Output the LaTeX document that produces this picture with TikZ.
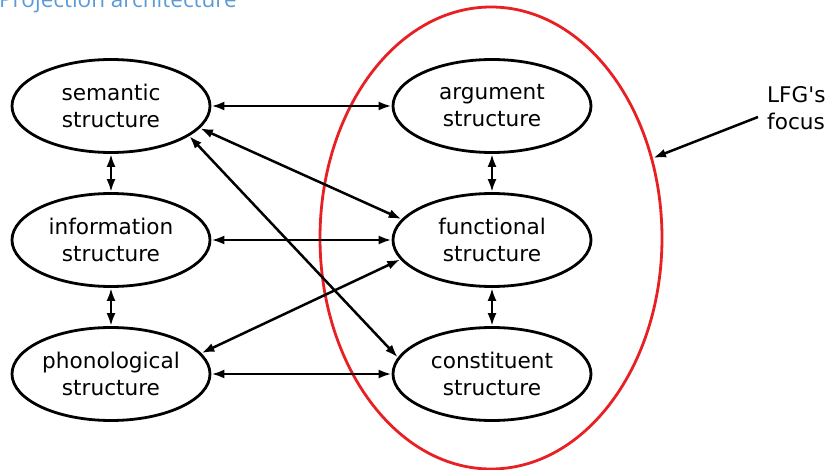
\documentclass[tikz,border=0pt]{standalone}
\usepackage{fontspec}
\setmainfont{DejaVu Sans}
\newfontfamily\plainfont{DejaVu Sans}
\newfontfamily\titlefont{Open Sans}
\usetikzlibrary{arrows.meta,shapes.geometric}
\definecolor{titleblue}{RGB}{91,155,213}
\definecolor{focusred}{RGB}{232,32,36}
\begin{document}
\begin{tikzpicture}[x=1pt,y=-1pt,
  struct/.style={draw,ellipse,line width=2.8pt,minimum width=198pt,minimum height=93pt,inner sep=0pt,align=center,font=\fontsize{21.6}{27}\selectfont},
  link/.style={line width=2.5pt,{Latex[length=13pt,width=9pt]}-{Latex[length=13pt,width=9pt]}},
  pointer/.style={line width=2.5pt,-{Latex[length=13pt,width=9pt]}}]
\useasboundingbox (0,0) rectangle (828,470);
\clip (0,0) rectangle (828,470);
\node[anchor=base west,inner sep=0pt,text=titleblue,font=\titlefont\fontsize{22.5}{27}\selectfont] (title) at (-1,8) {Projection architecture};
\node[struct] (sem) at (111,106) {semantic\\structure};
\node[struct] (inf) at (111,240) {information\\structure};
\node[struct] (pho) at (111,374) {phonological\\structure};
\node[struct] (arg) at (492,106) {argument\\structure};
\node[struct] (fun) at (492,240) {functional\\structure};
\node[struct] (con) at (492,374) {constituent\\structure};
\draw[focusred,line width=2.8pt] (491,238) ellipse [x radius=171, y radius=231];
\node[anchor=west,inner sep=0pt,align=left,font=\plainfont\fontsize{21.6}{27}\selectfont] (lfg) at (767,108) {LFG's\\focus};
\coordinate (ptr) at (653,158);
\draw[pointer] ([xshift=-9pt,yshift=-9pt]lfg.west) -- (ptr);
\draw[link] (sem.east) -- (arg.west);
\draw[link] (inf.east) -- (fun.west);
\draw[link] (pho.east) -- (con.west);
\draw[link] (sem.south) -- (inf.north);
\draw[link] (inf.south) -- (pho.north);
\draw[link] (arg.south) -- (fun.north);
\draw[link] (fun.south) -- (con.north);
\draw[link] (sem.-14) -- (fun.167);
\draw[link] (sem.-21) -- (con.170);
\draw[link] (pho.13) -- (fun.192);
\end{tikzpicture}
\end{document}
